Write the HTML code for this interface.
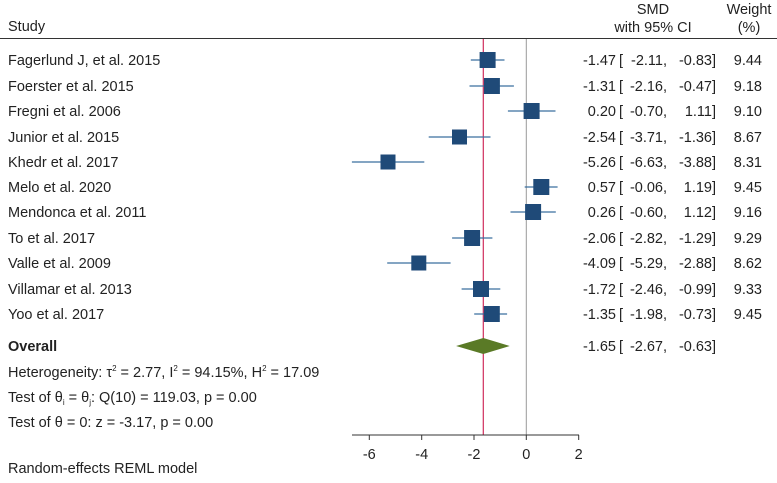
<!DOCTYPE html>
<html><head><meta charset="utf-8"><style>
html,body{margin:0;padding:0;background:#fff}
svg{display:block;font-family:"Liberation Sans",Arial,sans-serif}
text{font-size:14.5px;fill:#222}
</style></head><body>
<svg width="777" height="483" viewBox="0 0 777 483" xmlns="http://www.w3.org/2000/svg">
<text x="8" y="31">Study</text>
<text x="653" y="14" text-anchor="middle">SMD</text>
<text x="653" y="32" text-anchor="middle">with 95% CI</text>
<text x="749" y="14" text-anchor="middle">Weight</text>
<text x="749" y="32" text-anchor="middle">(%)</text>
<line x1="0" y1="38.5" x2="777" y2="38.5" stroke="#333" stroke-width="1"/>
<line x1="526.3" y1="39" x2="526.3" y2="435" stroke="#999" stroke-width="1"/>
<line x1="483.3" y1="39" x2="483.3" y2="435" stroke="#d02c5c" stroke-width="1.2"/>
<g stroke="#3a6f9f" stroke-width="1.2">
<line x1="470.8" y1="60" x2="504.5" y2="60"/>
<line x1="469.5" y1="86" x2="513.9" y2="86"/>
<line x1="507.9" y1="111" x2="555.5" y2="111"/>
<line x1="428.7" y1="137" x2="490.5" y2="137"/>
<line x1="351.9" y1="162" x2="424.3" y2="162"/>
<line x1="524.7" y1="187" x2="557.6" y2="187"/>
<line x1="510.5" y1="212" x2="555.8" y2="212"/>
<line x1="452.1" y1="238" x2="492.4" y2="238"/>
<line x1="387.2" y1="263" x2="450.6" y2="263"/>
<line x1="461.6" y1="289" x2="500.3" y2="289"/>
<line x1="474.2" y1="314" x2="507.1" y2="314"/>
</g>
<g fill="#1f4a78">
<rect x="479.6" y="52" width="16" height="16"/>
<rect x="483.9" y="78" width="16" height="16"/>
<rect x="523.6" y="103" width="16" height="16"/>
<rect x="452" y="129.5" width="15" height="15"/>
<rect x="380.5" y="154.5" width="15" height="15"/>
<rect x="533.3" y="179" width="16" height="16"/>
<rect x="525.1" y="204" width="16" height="16"/>
<rect x="464.1" y="230" width="16" height="16"/>
<rect x="411.3" y="255.5" width="15" height="15"/>
<rect x="473" y="281" width="16" height="16"/>
<rect x="483.8" y="306" width="16" height="16"/>
</g>
<polygon points="456.1,346 483.3,338 509.7,346 483.3,354" fill="#5a7a26"/>
<g>
<text x="8" y="65">Fagerlund J, et al. 2015</text>
<text x="8" y="91">Foerster et al. 2015</text>
<text x="8" y="116">Fregni et al. 2006</text>
<text x="8" y="142">Junior et al. 2015</text>
<text x="8" y="167">Khedr et al. 2017</text>
<text x="8" y="192">Melo et al. 2020</text>
<text x="8" y="217">Mendonca et al. 2011</text>
<text x="8" y="243">To et al. 2017</text>
<text x="8" y="268">Valle et al. 2009</text>
<text x="8" y="294">Villamar et al. 2013</text>
<text x="8" y="319">Yoo et al. 2017</text>
<text x="8" y="351" font-weight="bold">Overall</text>
<text x="8" y="377">Heterogeneity: τ<tspan font-size="8" dy="-6">2</tspan><tspan dy="6"> = 2.77, I</tspan><tspan font-size="8" dy="-6">2</tspan><tspan dy="6"> = 94.15%, H</tspan><tspan font-size="8" dy="-6">2</tspan><tspan dy="6"> = 17.09</tspan></text>
<text x="8" y="402">Test of θ<tspan font-size="8" dy="3">i</tspan><tspan dy="-3"> = θ</tspan><tspan font-size="8" dy="3">j</tspan><tspan dy="-3">: Q(10) = 119.03, p = 0.00</tspan></text>
<text x="8" y="427">Test of θ = 0: z = -3.17, p = 0.00</text>
<text x="8" y="473">Random-effects REML model</text>
</g>
<!-- CI columns -->
<g text-anchor="end">
<text x="616" y="65">-1.47</text><text x="663" y="65">-2.11</text><text x="712" y="65">-0.83</text>
<text x="616" y="91">-1.31</text><text x="663" y="91">-2.16</text><text x="712" y="91">-0.47</text>
<text x="616" y="116">0.20</text><text x="663" y="116">-0.70</text><text x="712" y="116">1.11</text>
<text x="616" y="142">-2.54</text><text x="663" y="142">-3.71</text><text x="712" y="142">-1.36</text>
<text x="616" y="167">-5.26</text><text x="663" y="167">-6.63</text><text x="712" y="167">-3.88</text>
<text x="616" y="192">0.57</text><text x="663" y="192">-0.06</text><text x="712" y="192">1.19</text>
<text x="616" y="217">0.26</text><text x="663" y="217">-0.60</text><text x="712" y="217">1.12</text>
<text x="616" y="243">-2.06</text><text x="663" y="243">-2.82</text><text x="712" y="243">-1.29</text>
<text x="616" y="268">-4.09</text><text x="663" y="268">-5.29</text><text x="712" y="268">-2.88</text>
<text x="616" y="294">-1.72</text><text x="663" y="294">-2.46</text><text x="712" y="294">-0.99</text>
<text x="616" y="319">-1.35</text><text x="663" y="319">-1.98</text><text x="712" y="319">-0.73</text>
<text x="616" y="351">-1.65</text><text x="663" y="351">-2.67</text><text x="712" y="351">-0.63</text>
<text x="762" y="65">9.44</text>
<text x="762" y="91">9.18</text>
<text x="762" y="116">9.10</text>
<text x="762" y="142">8.67</text>
<text x="762" y="167">8.31</text>
<text x="762" y="192">9.45</text>
<text x="762" y="217">9.16</text>
<text x="762" y="243">9.29</text>
<text x="762" y="268">8.62</text>
<text x="762" y="294">9.33</text>
<text x="762" y="319">9.45</text>
</g>
<g>
<text x="619" y="65">[</text><text x="663" y="65">,</text><text x="712" y="65">]</text>
<text x="619" y="91">[</text><text x="663" y="91">,</text><text x="712" y="91">]</text>
<text x="619" y="116">[</text><text x="663" y="116">,</text><text x="712" y="116">]</text>
<text x="619" y="142">[</text><text x="663" y="142">,</text><text x="712" y="142">]</text>
<text x="619" y="167">[</text><text x="663" y="167">,</text><text x="712" y="167">]</text>
<text x="619" y="192">[</text><text x="663" y="192">,</text><text x="712" y="192">]</text>
<text x="619" y="217">[</text><text x="663" y="217">,</text><text x="712" y="217">]</text>
<text x="619" y="243">[</text><text x="663" y="243">,</text><text x="712" y="243">]</text>
<text x="619" y="268">[</text><text x="663" y="268">,</text><text x="712" y="268">]</text>
<text x="619" y="294">[</text><text x="663" y="294">,</text><text x="712" y="294">]</text>
<text x="619" y="319">[</text><text x="663" y="319">,</text><text x="712" y="319">]</text>
<text x="619" y="351">[</text><text x="663" y="351">,</text><text x="712" y="351">]</text>
</g>
<line x1="352" y1="435" x2="579" y2="435" stroke="#333" stroke-width="1"/>
<g stroke="#333" stroke-width="1">
<line x1="369.3" y1="435" x2="369.3" y2="440"/>
<line x1="421.7" y1="435" x2="421.7" y2="440"/>
<line x1="474" y1="435" x2="474" y2="440"/>
<line x1="526.3" y1="435" x2="526.3" y2="440"/>
<line x1="578.7" y1="435" x2="578.7" y2="440"/>
</g>
<g text-anchor="middle">
<text x="369.3" y="459">-6</text>
<text x="421.7" y="459">-4</text>
<text x="474" y="459">-2</text>
<text x="526.3" y="459">0</text>
<text x="578.7" y="459">2</text>
</g>
</svg>
</body></html>
